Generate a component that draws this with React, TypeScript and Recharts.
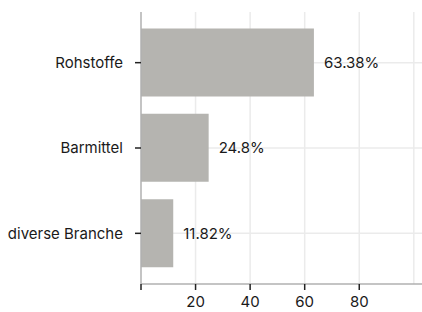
import { BarChart, Bar, XAxis, YAxis, ReferenceLine, LabelList } from "recharts";

const categories = ["Rohstoffe", "Barmittel", "diverse Branche"];
const shares = [63.38, 24.8, 11.82];
const xTicks = [0, 20, 40, 60, 80, 100];

const data = categories.map((name, i) => ({ name, value: shares[i] }));

const font = "Inter, 'Noto Sans', sans-serif";
const gridColor = "#ebebeb";

const XTick = (props: any) => {
  const { x, y, payload } = props;
  const v = payload.value;
  if (v === 100) return null;
  return (
    <g>
      <line x1={x} x2={x} y1={y - 8} y2={y - 2} stroke="#222" strokeWidth={1.5} />
      {v !== 0 && (
        <text x={x} y={y + 15} textAnchor="middle" fill="#1a1a1a" fontSize={15} fontFamily={font}>
          {v}
        </text>
      )}
    </g>
  );
};

export default function App() {
  return (
    <div style={{ position: "absolute", left: 0, top: 0, width: 422, height: 312, background: "#fff" }}>
      <BarChart
        width={422}
        height={312}
        data={data}
        layout="vertical"
        margin={{ top: 12, right: 0, left: 0, bottom: 0 }}
        barCategoryGap="10%"
      >
        {xTicks.slice(1).map((t) => (
          <ReferenceLine key={"x" + t} x={t} stroke={gridColor} strokeWidth={1.5} zIndex={0} />
        ))}
        {categories.map((c) => (
          <ReferenceLine key={"y" + c} y={c} stroke={gridColor} strokeWidth={1.5} zIndex={0} />
        ))}
        <XAxis
          type="number"
          domain={[0, 103]}
          ticks={xTicks}
          height={28}
          axisLine={{ stroke: "#b0b0b0", strokeWidth: 1.5 }}
          tickLine={false}
          tick={<XTick />}
          interval={0}
        />
        <YAxis
          type="category"
          dataKey="name"
          width={141}
          padding={{ top: 8, bottom: 8 }}
          axisLine={{ stroke: "#b0b0b0", strokeWidth: 1.5 }}
          tickLine={{ stroke: "#222", strokeWidth: 1.5 }}
          tickSize={6}
          tickMargin={12}
          tick={{ fill: "#1a1a1a", fontSize: 15, fontFamily: font }}
        />
        <Bar dataKey="value" fill="#b5b4b0" isAnimationActive={false}>
          <LabelList
            dataKey="value"
            position="right"
            offset={10}
            formatter={(v: any) => `${v}%`}
            style={{ fill: "#1a1a1a", fontSize: 15, fontFamily: font }}
          />
        </Bar>
      </BarChart>
    </div>
  );
}
